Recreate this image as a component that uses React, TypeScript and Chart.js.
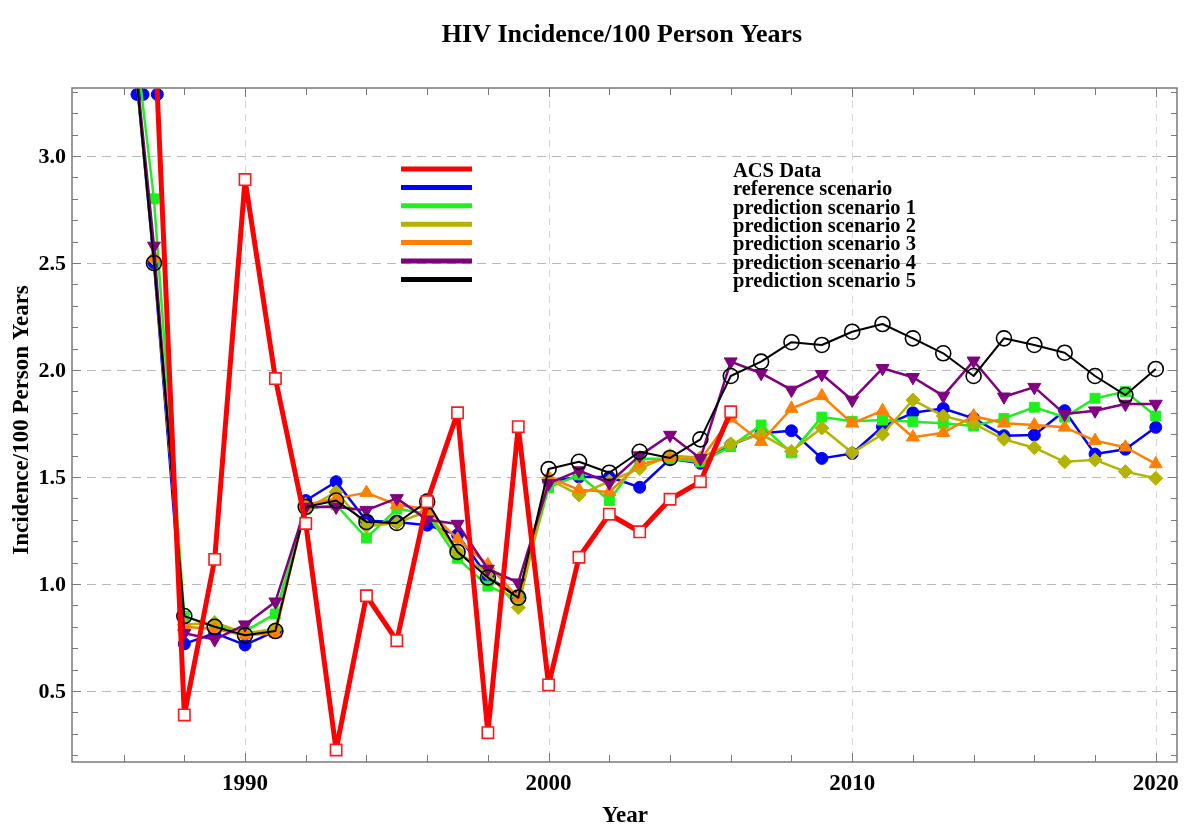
import React, { useEffect, useRef } from "react";
import { Chart, registerables } from "chart.js";

Chart.register(...registerables);

// ---------------- data ----------------
const modelYears = [
  1986, 1987, 1988, 1989, 1990, 1991, 1992, 1993, 1994, 1995, 1996, 1997,
  1998, 1999, 2000, 2001, 2002, 2003, 2004, 2005, 2006, 2007, 2008, 2009,
  2010, 2011, 2012, 2013, 2014, 2015, 2016, 2017, 2018, 2019, 2020,
];
const acsYears = [
  1987, 1988, 1989, 1990, 1991, 1992, 1993, 1994, 1995, 1996, 1997, 1998,
  1999, 2000, 2001, 2002, 2003, 2004, 2005, 2006,
];

const acsData = [
  3.65, 0.388, 1.115, 2.89, 1.96, 1.283, 0.224, 0.945, 0.735, 1.385, 1.8,
  0.305, 1.735, 0.528, 1.125, 1.326, 1.244, 1.396, 1.478, 1.805,
];
const referenceScenario = [
  4.0, 2.5, 0.72, 0.77, 0.715, 0.78, 1.39, 1.478, 1.296, 1.29, 1.275, 1.23,
  1.034, 0.94, 1.48, 1.5, 1.5, 1.452, 1.585, 1.564, 1.65, 1.705, 1.716, 1.587,
  1.61, 1.735, 1.8, 1.82, 1.774, 1.693, 1.696, 1.81, 1.607, 1.63, 1.732,
];
const predictionScenario1 = [
  4.0, 2.8, 0.85, 0.8, 0.78, 0.86, 1.35, 1.37, 1.215, 1.35, 1.33, 1.12, 0.99,
  0.93, 1.45, 1.51, 1.39, 1.585, 1.585, 1.57, 1.642, 1.743, 1.613, 1.78, 1.76,
  1.766, 1.758, 1.751, 1.738, 1.774, 1.826, 1.78, 1.868, 1.899, 1.785,
];
const predictionScenario2 = [
  4.0, 2.52, 0.81, 0.82, 0.77, 0.79, 1.35, 1.43, 1.27, 1.285, 1.34, 1.15, 1.05,
  0.89, 1.49, 1.416, 1.48, 1.54, 1.6, 1.59, 1.655, 1.7, 1.62, 1.729, 1.613,
  1.7, 1.86, 1.785, 1.75, 1.676, 1.637, 1.571, 1.58, 1.525, 1.494,
];
const predictionScenario3 = [
  4.0, 2.53, 0.8, 0.79, 0.76, 0.77, 1.37, 1.4, 1.427, 1.37, 1.35, 1.21, 1.09,
  0.936, 1.5, 1.44, 1.43, 1.56, 1.59, 1.58, 1.774, 1.665, 1.82, 1.879, 1.751,
  1.81, 1.686, 1.707, 1.785, 1.751, 1.743, 1.732, 1.67, 1.639, 1.561,
];
const predictionScenario4 = [
  4.0, 2.58, 0.77, 0.74, 0.81, 0.917, 1.36, 1.36, 1.345, 1.4, 1.3, 1.28, 1.07,
  1.006, 1.47, 1.53, 1.473, 1.6, 1.696, 1.587, 2.039, 1.985, 1.907, 1.98,
  1.86, 2.008, 1.966, 1.879, 2.043, 1.875, 1.92, 1.794, 1.81, 1.841, 1.841,
];
const predictionScenario5 = [
  4.0, 2.5, 0.85, 0.8, 0.76, 0.78, 1.36, 1.39, 1.29, 1.285, 1.385, 1.15, 1.03,
  0.936, 1.537, 1.571, 1.52, 1.618, 1.589, 1.676, 1.972, 2.039, 2.13, 2.117,
  2.179, 2.215, 2.148, 2.078, 1.972, 2.148, 2.117, 2.081, 1.972, 1.883, 2.005,
];
// markers shown at the top edge where values leave the plot range
const clippedYears = [1986.44, 1986.64, 1987.11];
const clippedValues = [3.288, 3.288, 3.288];

const xMajorTicks = [1990, 2000, 2010, 2020];
const xTickLabels = ["1990", "2000", "2010", "2020"];
const yMajorTicks = [0.5, 1.0, 1.5, 2.0, 2.5, 3.0];
const yTickLabels = ["0.5", "1.0", "1.5", "2.0", "2.5", "3.0"];

const legendLabels = [
  "ACS Data",
  "reference scenario",
  "prediction scenario 1",
  "prediction scenario 2",
  "prediction scenario 3",
  "prediction scenario 4",
  "prediction scenario 5",
];
const legendColors = [
  "#ff0000",
  "#0000ff",
  "#1ef01e",
  "#b3b300",
  "#ff8000",
  "#800080",
  "#000000",
];

const pts = (xs: number[], ys: number[]) => xs.map((x, i) => ({ x, y: ys[i] }));

const FONT = '"Liberation Serif", "Times New Roman", serif';

const framePlugin = {
  id: "mmaFrame",
  beforeDatasetsDraw(chart: any) {
    const { ctx, chartArea: a, scales } = chart;
    const x = scales.x;
    const y = scales.y;
    ctx.save();
    ctx.lineWidth = 1;
    ctx.strokeStyle = "#b8b8b8";
    ctx.setLineDash([9, 6]);
    yMajorTicks.forEach((v) => {
      const py = Math.round(y.getPixelForValue(v)) + 0.5;
      ctx.beginPath();
      ctx.moveTo(a.left, py);
      ctx.lineTo(a.right, py);
      ctx.stroke();
    });
    ctx.strokeStyle = "#d6d6d6";
    ctx.setLineDash([7, 6]);
    xMajorTicks.forEach((v) => {
      const px = Math.round(x.getPixelForValue(v)) + 0.5;
      ctx.beginPath();
      ctx.moveTo(px, a.top);
      ctx.lineTo(px, a.bottom);
      ctx.stroke();
    });
    ctx.restore();
  },
  afterDraw(chart: any) {
    const { ctx, chartArea: a, scales } = chart;
    const x = scales.x;
    const y = scales.y;
    ctx.save();
    // frame
    ctx.strokeStyle = "#7a7a7a";
    ctx.lineWidth = 1.5;
    ctx.setLineDash([]);
    ctx.strokeRect(a.left, a.top, a.right - a.left, a.bottom - a.top);

    // x ticks (every 2 years, inward, top and bottom)
    ctx.lineWidth = 1;
    for (let yr = 1986; yr <= 2020; yr += 2) {
      const px = Math.round(x.getPixelForValue(yr)) + 0.5;
      const len = yr % 10 === 0 ? 9 : 7;
      ctx.beginPath();
      ctx.moveTo(px, a.bottom);
      ctx.lineTo(px, a.bottom - len);
      ctx.moveTo(px, a.top);
      ctx.lineTo(px, a.top + len);
      ctx.stroke();
    }
    // y ticks (every 0.1, inward, left and right)
    for (let k = 2; k <= 33; k++) {
      const v = k / 10;
      const py = Math.round(y.getPixelForValue(v)) + 0.5;
      const len = k % 5 === 0 ? 9 : 6;
      ctx.beginPath();
      ctx.moveTo(a.left, py);
      ctx.lineTo(a.left + len, py);
      ctx.moveTo(a.right, py);
      ctx.lineTo(a.right - len, py);
      ctx.stroke();
    }

    // tick labels
    ctx.fillStyle = "#000";
    ctx.font = `bold 23px ${FONT}`;
    ctx.textAlign = "center";
    ctx.textBaseline = "alphabetic";
    xMajorTicks.forEach((v, i) => {
      ctx.fillText(xTickLabels[i], x.getPixelForValue(v), a.bottom + 28);
    });
    ctx.font = `bold 22px ${FONT}`;
    ctx.textAlign = "right";
    ctx.textBaseline = "middle";
    yMajorTicks.forEach((v, i) => {
      ctx.fillText(yTickLabels[i], a.left - 6, y.getPixelForValue(v) + 1);
    });

    // titles
    ctx.textAlign = "center";
    ctx.textBaseline = "alphabetic";
    ctx.font = `bold 26px ${FONT}`;
    ctx.fillText("HIV Incidence/100 Person Years", 622, 42);
    ctx.font = `bold 23px ${FONT}`;
    ctx.fillText("Year", (a.left + a.right) / 2 + 0.5, 822);
    ctx.save();
    ctx.translate(28, 420);
    ctx.rotate(-Math.PI / 2);
    ctx.font = `bold 23px ${FONT}`;
    ctx.fillText("Incidence/100 Person Years", 0, 0);
    ctx.restore();

    // legend
    const lx0 = a.left + 329;
    const lx1 = a.left + 400;
    const tx = a.left + 661;
    const step = 18.4;
    ctx.font = `bold 20.5px ${FONT}`;
    ctx.textAlign = "left";
    legendLabels.forEach((lab, i) => {
      const ly = a.top + 81 + i * step;
      ctx.strokeStyle = legendColors[i];
      ctx.lineWidth = 5;
      ctx.beginPath();
      ctx.moveTo(lx0, ly);
      ctx.lineTo(lx1, ly);
      ctx.stroke();
      ctx.fillStyle = "#000";
      ctx.fillText(lab, tx, a.top + 88.7 + i * step);
    });
    ctx.restore();
  },
};

export default function App() {
  const ref = useRef<HTMLCanvasElement | null>(null);

  useEffect(() => {
    document.body.style.margin = "0";
    if (!ref.current) return;
    const model = (
      label: string,
      data: number[],
      color: string,
      style: any,
      radius: number,
      extra: any = {}
    ) => ({
      label,
      data: pts(modelYears, data),
      borderColor: color,
      backgroundColor: color,
      borderWidth: 2.5,
      borderJoinStyle: "round",
      pointStyle: style,
      pointRadius: radius,
      pointBackgroundColor: color,
      pointBorderColor: color,
      pointBorderWidth: 1,
      tension: 0,
      ...extra,
    });

    const chart = new Chart(ref.current, {
      type: "line",
      data: {
        datasets: [
          {
            label: "ACS Data",
            data: pts(acsYears, acsData),
            borderColor: "#ff0000",
            backgroundColor: "#ffffff",
            borderWidth: 5,
            borderJoinStyle: "round",
            pointStyle: "rect",
            pointRadius: 8,
            pointBackgroundColor: "#ffffff",
            pointBorderColor: "#ff1a1a",
            pointBorderWidth: 1.6,
            tension: 0,
          },
          model("prediction scenario 5", predictionScenario5, "#000000", "circle", 7.5, {
            borderWidth: 2,
            pointBackgroundColor: "rgba(255,255,255,0)",
            pointBorderWidth: 1.6,
          }),
          model("prediction scenario 4", predictionScenario4, "#800080", "triangle", 7.5, {
            pointRotation: 180,
          }),
          model("prediction scenario 3", predictionScenario3, "#ff8000", "triangle", 7.5),
          model("prediction scenario 2", predictionScenario2, "#b3b300", "rectRot", 7),
          model("prediction scenario 1", predictionScenario1, "#1ef01e", "rect", 7),
          model("reference scenario", referenceScenario, "#0000ff", "circle", 6),
          {
            label: "clipped",
            data: pts(clippedYears, clippedValues),
            showLine: false,
            pointStyle: "circle",
            pointRadius: 6,
            pointBackgroundColor: "#0000ff",
            pointBorderColor: "#0000ff",
            borderColor: "#0000ff",
            backgroundColor: "#0000ff",
          },
        ],
      },
      options: {
        animation: false,
        responsive: true,
        maintainAspectRatio: false,
        layout: { padding: { left: 72, top: 88, right: 23, bottom: 74 } },
        plugins: {
          legend: { display: false },
          title: { display: false },
          tooltip: { enabled: false },
        },
        scales: {
          x: { type: "linear", min: 1984.3, max: 2020.7, display: false },
          y: { type: "linear", min: 0.168, max: 3.318, display: false },
        },
      },
      plugins: [framePlugin],
    } as any);
    return () => chart.destroy();
  }, []);

  return (
    <div style={{ width: 1200, height: 836, position: "relative", background: "#fff" }}>
      <canvas ref={ref} />
    </div>
  );
}
